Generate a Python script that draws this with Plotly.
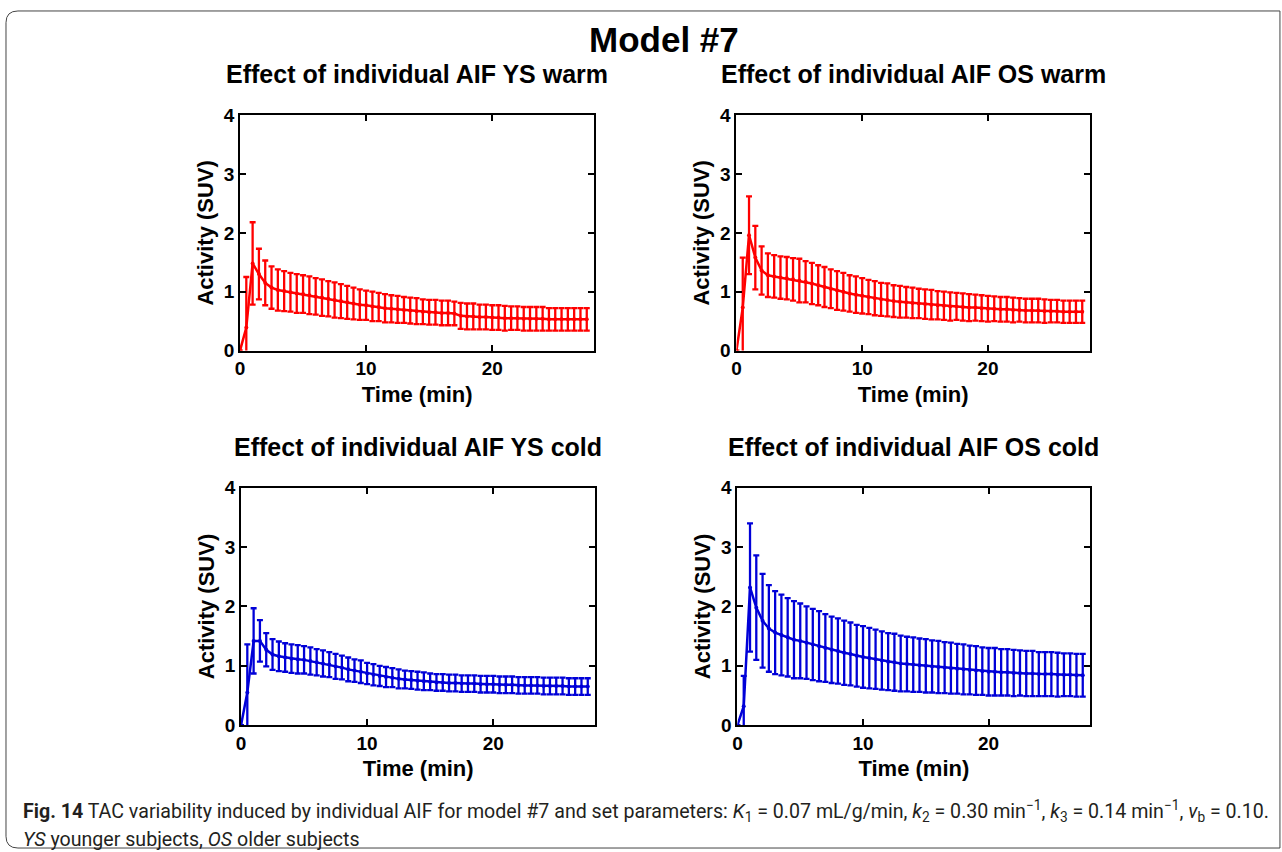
import plotly.graph_objects as go

# ---------------- data ----------------
time_min = [0.0, 0.5, 1.0, 1.5, 2.0, 2.5, 3.0, 3.5, 4.0, 4.5, 5.0, 5.5, 6.0, 6.5,
            7.0, 7.5, 8.0, 8.5, 9.0, 9.5, 10.0, 10.5, 11.0, 11.5, 12.0, 12.5, 13.0,
            13.5, 14.0, 14.5, 15.0, 15.5, 16.0, 16.5, 17.0, 17.5, 18.0, 18.5, 19.0,
            19.5, 20.0, 20.5, 21.0, 21.5, 22.0, 22.5, 23.0, 23.5, 24.0, 24.5, 25.0,
            25.5, 26.0, 26.5, 27.0, 27.5]

ys_warm_mean = [0.00, 0.39, 1.48, 1.30, 1.15, 1.07, 1.03, 1.01, 0.99, 0.97, 0.96, 0.94,
                0.92, 0.90, 0.88, 0.86, 0.84, 0.82, 0.80, 0.78, 0.77, 0.75, 0.74, 0.72,
                0.71, 0.70, 0.69, 0.68, 0.67, 0.66, 0.65, 0.65, 0.64, 0.64, 0.63, 0.59,
                0.58, 0.58, 0.57, 0.57, 0.56, 0.56, 0.55, 0.55, 0.55, 0.54, 0.54, 0.54,
                0.54, 0.53, 0.53, 0.53, 0.53, 0.53, 0.53, 0.53]
ys_warm_sd = [0.00, 0.86, 0.70, 0.43, 0.38, 0.36, 0.35, 0.34, 0.33, 0.33, 0.32, 0.32,
              0.31, 0.31, 0.30, 0.30, 0.29, 0.28, 0.27, 0.26, 0.25, 0.25, 0.24, 0.24,
              0.23, 0.23, 0.22, 0.22, 0.22, 0.21, 0.21, 0.21, 0.21, 0.21, 0.20, 0.22,
              0.22, 0.22, 0.21, 0.21, 0.21, 0.21, 0.21, 0.20, 0.20, 0.20, 0.20, 0.20,
              0.20, 0.19, 0.19, 0.19, 0.19, 0.19, 0.19, 0.19]

os_warm_mean = [0.00, 0.73, 1.96, 1.58, 1.36, 1.28, 1.26, 1.24, 1.23, 1.21, 1.19, 1.17,
                1.14, 1.11, 1.08, 1.05, 1.02, 1.00, 0.97, 0.95, 0.93, 0.91, 0.89, 0.87,
                0.86, 0.84, 0.83, 0.82, 0.81, 0.80, 0.79, 0.78, 0.77, 0.76, 0.75, 0.75,
                0.74, 0.73, 0.73, 0.72, 0.71, 0.71, 0.70, 0.70, 0.69, 0.69, 0.68, 0.68,
                0.68, 0.67, 0.67, 0.67, 0.66, 0.66, 0.66, 0.66]
os_warm_sd = [0.00, 0.85, 0.66, 0.54, 0.41, 0.37, 0.36, 0.36, 0.36, 0.36, 0.37, 0.35,
              0.35, 0.34, 0.34, 0.33, 0.33, 0.32, 0.31, 0.31, 0.30, 0.29, 0.29, 0.28,
              0.28, 0.27, 0.27, 0.26, 0.26, 0.25, 0.25, 0.25, 0.24, 0.24, 0.24, 0.23,
              0.23, 0.23, 0.22, 0.22, 0.22, 0.21, 0.21, 0.21, 0.21, 0.20, 0.20, 0.20,
              0.20, 0.20, 0.19, 0.19, 0.19, 0.19, 0.19, 0.19]

ys_cold_mean = [0.00, 0.55, 1.42, 1.42, 1.27, 1.19, 1.16, 1.14, 1.12, 1.11, 1.10, 1.08,
                1.06, 1.04, 1.02, 0.99, 0.97, 0.94, 0.92, 0.90, 0.87, 0.85, 0.83, 0.81,
                0.80, 0.78, 0.77, 0.76, 0.75, 0.74, 0.73, 0.72, 0.72, 0.71, 0.71, 0.70,
                0.70, 0.70, 0.69, 0.69, 0.69, 0.68, 0.68, 0.68, 0.67, 0.67, 0.67, 0.67,
                0.66, 0.66, 0.66, 0.66, 0.65, 0.65, 0.65, 0.65]
ys_cold_sd = [0.00, 0.81, 0.55, 0.35, 0.28, 0.26, 0.25, 0.24, 0.24, 0.24, 0.23, 0.23,
              0.22, 0.22, 0.21, 0.21, 0.20, 0.20, 0.19, 0.19, 0.18, 0.18, 0.17, 0.17,
              0.16, 0.16, 0.15, 0.15, 0.15, 0.15, 0.14, 0.14, 0.14, 0.14, 0.14, 0.14,
              0.14, 0.14, 0.14, 0.14, 0.14, 0.14, 0.14, 0.14, 0.14, 0.14, 0.14, 0.14,
              0.14, 0.14, 0.14, 0.14, 0.14, 0.14, 0.14, 0.14]

os_cold_mean = [0.00, 0.32, 2.32, 1.98, 1.76, 1.63, 1.56, 1.52, 1.48, 1.44, 1.42, 1.39,
                1.36, 1.33, 1.30, 1.27, 1.25, 1.22, 1.20, 1.17, 1.15, 1.13, 1.11, 1.09,
                1.07, 1.06, 1.04, 1.03, 1.02, 1.01, 1.00, 0.99, 0.98, 0.97, 0.96, 0.95,
                0.94, 0.93, 0.92, 0.91, 0.90, 0.90, 0.89, 0.89, 0.88, 0.88, 0.87, 0.87,
                0.86, 0.86, 0.86, 0.85, 0.85, 0.85, 0.84, 0.84]
os_cold_sd = [0.00, 0.51, 1.08, 0.88, 0.79, 0.73, 0.70, 0.68, 0.66, 0.65, 0.63, 0.61,
              0.60, 0.59, 0.57, 0.56, 0.55, 0.54, 0.53, 0.52, 0.52, 0.51, 0.50, 0.49,
              0.48, 0.48, 0.47, 0.46, 0.46, 0.45, 0.45, 0.44, 0.44, 0.43, 0.43, 0.42,
              0.42, 0.41, 0.41, 0.40, 0.40, 0.40, 0.39, 0.39, 0.39, 0.38, 0.38, 0.38,
              0.37, 0.37, 0.37, 0.37, 0.36, 0.36, 0.36, 0.36]

panel_titles = ["Effect of individual AIF YS warm", "Effect of individual AIF OS warm",
                "Effect of individual AIF YS cold", "Effect of individual AIF OS cold"]
x_ticks = [0, 10, 20]
y_ticks = [0, 1, 2, 3, 4]

for arr in (ys_warm_mean, ys_warm_sd, os_warm_mean, os_warm_sd,
            ys_cold_mean, ys_cold_sd, os_cold_mean, os_cold_sd):
    assert len(arr) == len(time_min)

# ---------------- layout geometry ----------------
# Figure size; screen positions (S) of the reference are converted to figure
# pixels with the offset/scale observed for this page.
W, H = 1282, 860


def fx(S):
    return (S - 5.2) / 0.9952


def fy(S):
    return (S - 11.0) / 0.974


def px(S):
    return fx(S) / W


def py(S):
    return 1 - fy(S) / H


RED = "#ff0000"
BLUE = "#0000d8"
FONT = "Liberation Sans, Arial, sans-serif"

# reference-pixel boxes of each panel: (left, right, top, bottom)
boxes = [(240, 594, 116, 351), (736, 1089, 116, 351),
         (241, 595, 488, 725), (737, 1089.5, 488, 725)]

series = [(ys_warm_mean, ys_warm_sd, RED), (os_warm_mean, os_warm_sd, RED),
          (ys_cold_mean, ys_cold_sd, BLUE), (os_cold_mean, os_cold_sd, BLUE)]

fig = go.Figure()
layout_axes = {}
annotations = []
for i, ((m, sd, col), (l, r, t, b)) in enumerate(zip(series, boxes)):
    n = "" if i == 0 else str(i + 1)
    fig.add_trace(go.Scatter(
        x=time_min, y=m, mode="lines+markers",
        line=dict(color=col, width=2.5),
        marker=dict(color=col, size=4),
        error_y=dict(type="data", array=sd, visible=True, color=col,
                     thickness=2.3, width=3),
        xaxis="x" + n, yaxis="y" + n, showlegend=False))
    common = dict(ticks="inside", ticklen=6, tickwidth=2, tickcolor="black",
                  showline=True, linewidth=2, linecolor="black", mirror="ticks",
                  showgrid=False, zeroline=False,
                  tickfont=dict(family=FONT, size=19, color="black", weight="bold"))
    layout_axes["xaxis" + n] = dict(
        common, domain=[px(l), px(r)], range=[0, 28.1], tickvals=x_ticks,
        anchor="y" + n,
        title=dict(text="Time (min)", standoff=8,
                   font=dict(family=FONT, size=22, color="black", weight="bold")))
    layout_axes["yaxis" + n] = dict(
        common, domain=[py(b), py(t)], range=[0, 4], tickvals=y_ticks,
        anchor="x" + n,
        title=dict(text="Activity (SUV)", standoff=4,
                   font=dict(family=FONT, size=22, color="black", weight="bold")))
    annotations.append(dict(
        text="<b>%s</b>" % panel_titles[i], xref="paper", yref="paper",
        x=px((l + r) / 2), y=py(75 if i < 2 else 447),
        xanchor="center", yanchor="middle", showarrow=False,
        font=dict(family=FONT, size=25, color="black")))

annotations.append(dict(
    text="<b>Model #7</b>", xref="paper", yref="paper", x=px(664), y=py(40),
    xanchor="center", yanchor="middle", showarrow=False,
    font=dict(family=FONT, size=35, color="black")))

CAP_FONT = "Liberation Sans Narrow, Roboto, sans-serif"
cap1 = ("<b>Fig. 14</b> TAC variability induced by individual AIF for model #7 and set "
        "parameters: <i>K</i><sub>1</sub> = 0.07 mL/g/min, <i>k</i><sub>2</sub> = 0.30 "
        "min<sup>\u22121</sup>, <i>k</i><sub>3</sub> = 0.14 min<sup>\u22121</sup>, "
        "<i>v</i><sub>b</sub> = 0.10.")
cap2 = "<i>YS</i> younger subjects, <i>OS</i> older subjects"
annotations.append(dict(text=cap1, xref="paper", yref="paper", x=px(21), y=py(811),
                        xanchor="left", yanchor="middle", showarrow=False,
                        font=dict(family=CAP_FONT, size=19.6, color="#231f20")))
annotations.append(dict(text=cap2, xref="paper", yref="paper", x=px(21), y=py(839),
                        xanchor="left", yanchor="middle", showarrow=False,
                        font=dict(family=CAP_FONT, size=19.6, color="#231f20")))

# rounded frame around the whole figure
x0, x1 = max(px(3), 1 / W), min(px(1279), 1 - 1 / W)
y0, y1 = min(py(3), 1 - 1 / H), max(py(849), 1 / H)
rx, ry = 12 / W, 12 / H
path = (f"M {x0+rx},{y0} L {x1},{y0} L {x1},{y1} L {x0+rx},{y1} "
        f"Q {x0},{y1} {x0},{y1+ry} L {x0},{y0-ry} Q {x0},{y0} {x0+rx},{y0} Z")
shapes = [dict(type="path", path=path, xref="paper", yref="paper",
               line=dict(color="#444444", width=1))]

fig.update_layout(width=W, height=H, margin=dict(l=0, r=0, t=0, b=0),
                  paper_bgcolor="white", plot_bgcolor="white",
                  annotations=annotations, shapes=shapes, **layout_axes)

fig.write_html("out.html")
